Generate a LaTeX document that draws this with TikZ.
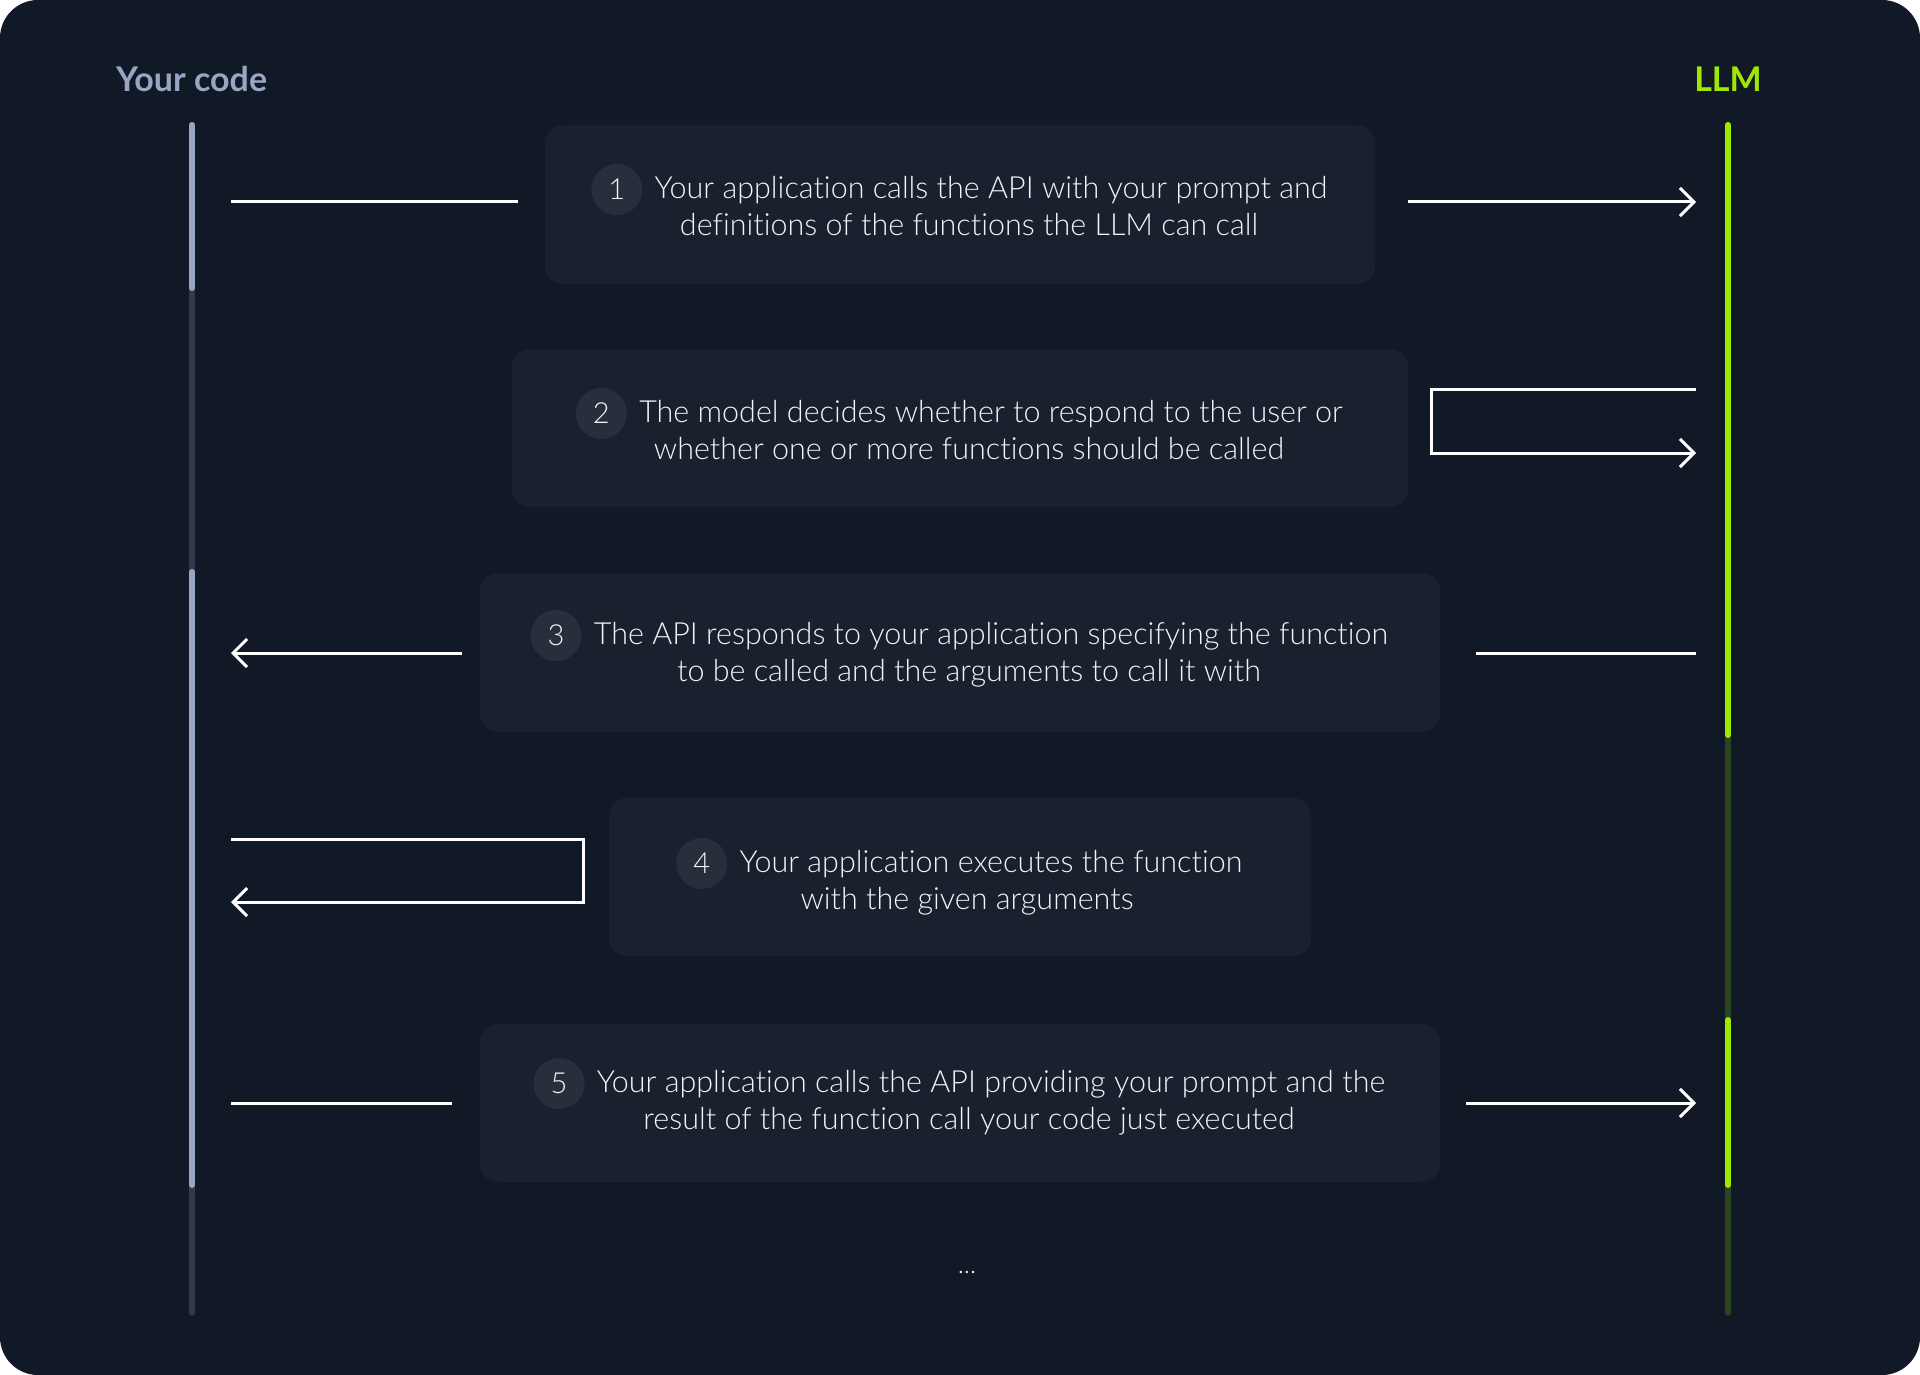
\documentclass[tikz,border=0pt]{standalone}
\usepackage{fontspec}
\setmainfont{Lato}[UprightFont=* Light, BoldFont=* Bold, Ligatures=NoCommon]
\usetikzlibrary{arrows.meta}
\definecolor{bg}{HTML}{121926}
\definecolor{boxc}{HTML}{19212F}
\definecolor{badge}{HTML}{272F3D}
\definecolor{codec}{HTML}{98A6C4}
\definecolor{codedim}{HTML}{323A4B}
\definecolor{llmc}{HTML}{9FE800}
\definecolor{llmdim}{HTML}{2C4322}
\definecolor{txt}{HTML}{F2F4F7}
\tikzset{
  stepbox/.style={rectangle, rounded corners=18pt, fill=boxc, inner sep=0pt},
  badgec/.style={circle, fill=badge, minimum size=51pt, inner sep=0pt, text=txt, font=\fontsize{29}{34}\selectfont},
  linetxt/.style={text=txt, inner sep=0pt, text height=22pt, text depth=6pt, font=\fontsize{30.5}{36}\selectfont},
  conn/.style={draw=white, line width=3pt},
  tipr/.style={-{Straight Barb[length=14pt,width=28pt,line width=3pt]}},
  header/.style={font=\fontsize{34}{40}\selectfont\bfseries, inner sep=0pt},
  life/.style={line width=6pt, line cap=round}
}
\begin{document}
\begin{tikzpicture}[x=1pt,y=-1pt]
\useasboundingbox (0,0) rectangle (1920,1375);
\fill[white] (0,0) rectangle (1920,1375);
\fill[bg, rounded corners=38pt] (0,0) rectangle (1920,1375);

% headers
\node[header, text=codec, anchor=west] (hcode) at (116,79) {Your code};
\node[header, text=llmc] (hllm) at (1728,79) {LLM};

% lifelines
\coordinate (Ltop) at (192,125);
\coordinate (Lbot) at (192,1313);
\coordinate (Rtop) at (1728,125);
\coordinate (Rbot) at (1728,1313);
\draw[life, codedim] (Ltop) -- (Lbot);
\draw[life, codec] (192,125) -- (192,288);
\draw[life, codec] (192,572) -- (192,1185);
\draw[life, llmdim] (Rtop) -- (Rbot);
\draw[life, llmc] (1728,125) -- (1728,735);
\draw[life, llmc] (1728,1020) -- (1728,1185);

% boxes
\node[stepbox, minimum width=830pt, minimum height=159pt] (b1) at (960,204.5) {};
\node[stepbox, minimum width=896pt, minimum height=158pt] (b2) at (960,428) {};
\node[stepbox, minimum width=960pt, minimum height=159pt] (b3) at (960,652.5) {};
\node[stepbox, minimum width=702pt, minimum height=158pt] (b4) at (960,877) {};
\node[stepbox, minimum width=960pt, minimum height=158pt] (b5) at (960,1103) {};

% texts
\node[linetxt] (t1a) at (991,190.5) {Your application calls the API with your prompt and};
\node[linetxt] (t1b) at (969,227.5) {definitions of the functions the LLM can call};
\node[badgec, anchor=east] (c1) at ([xshift=-12pt,yshift=1pt]t1a.west) {1};

\node[linetxt] (t2a) at (991,414.5) {The model decides whether to respond to the user or};
\node[linetxt] (t2b) at (969,451.5) {whether one or more functions should be called};
\node[badgec, anchor=east] (c2) at ([xshift=-12pt,yshift=1pt]t2a.west) {2};

\node[linetxt] (t3a) at (991,636.5) {The API responds to your application specifying the function};
\node[linetxt] (t3b) at (969,673.5) {to be called and the arguments to call it with};
\node[badgec, anchor=east] (c3) at ([xshift=-12pt,yshift=1pt]t3a.west) {3};

\node[linetxt] (t4a) at (991,864.5) {Your application executes the function};
\node[linetxt] (t4b) at (967,901.5) {with the given arguments};
\node[badgec, anchor=east] (c4) at ([xshift=-12pt,yshift=1pt]t4a.west) {4};

\node[linetxt] (t5a) at (991,1084.5) {Your application calls the API providing your prompt and the};
\node[linetxt] (t5b) at (969,1121.5) {result of the function call your code just executed};
\node[badgec, anchor=east] (c5) at ([xshift=-12pt,yshift=1pt]t5a.west) {5};

\node[text=txt, inner sep=0pt, font=\fontsize{26}{30}\selectfont] (dots) at (967,1272) {...};

% connector end points
\coordinate (a1l) at (231,202);  \coordinate (a1m) at (518,202);
\coordinate (a1n) at (1408,202); \coordinate (a1r) at (1696,202);
\coordinate (a2s) at (1696,389); \coordinate (a2e) at (1696,453);
\coordinate (a3l) at (231,653);  \coordinate (a3m) at (462,653);
\coordinate (a3n) at (1476,653); \coordinate (a3r) at (1696,653);
\coordinate (a4s) at (231,839);  \coordinate (a4e) at (231,902);
\coordinate (a5l) at (231,1103); \coordinate (a5m) at (452,1103);
\coordinate (a5n) at (1466,1103);\coordinate (a5r) at (1696,1103);

\draw[conn] (a1l) -- (a1m);
\draw[conn, tipr] (a1n) -- (a1r);
\draw[conn, tipr] (a2s) -- (1431,389) -- (1431,453) -- (a2e);
\draw[conn, tipr] (a3m) -- (a3l);
\draw[conn] (a3n) -- (a3r);
\draw[conn, tipr] (a4s) -- (583,839) -- (583,902) -- (a4e);
\draw[conn] (a5l) -- (a5m);
\draw[conn, tipr] (a5n) -- (a5r);
\end{tikzpicture}
\end{document}
